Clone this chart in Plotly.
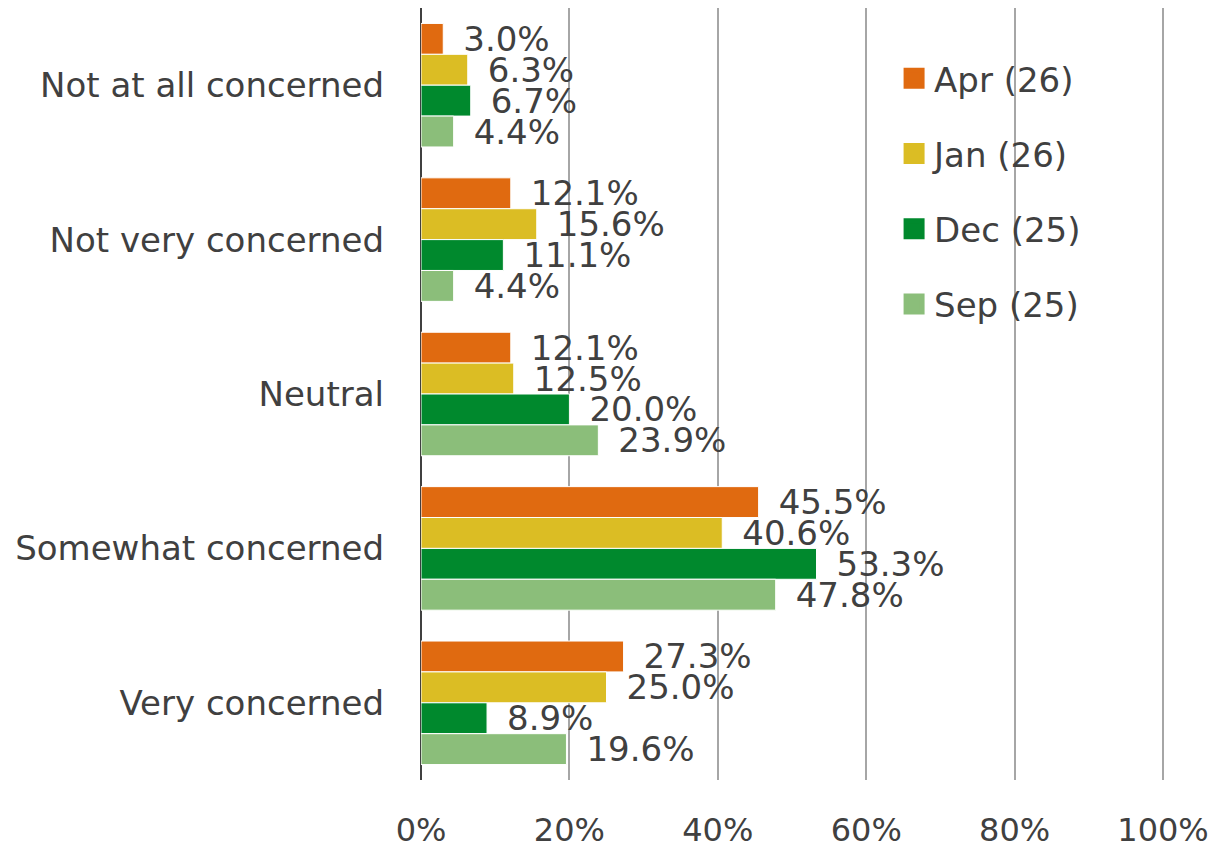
import plotly.graph_objects as go

categories = ["Not at all concerned", "Not very concerned", "Neutral",
              "Somewhat concerned", "Very concerned"]
series_names = ["Apr (26)", "Jan (26)", "Dec (25)", "Sep (25)"]
apr_26 = [3.0, 12.1, 12.1, 45.5, 27.3]
jan_26 = [6.3, 15.6, 12.5, 40.6, 25.0]
dec_25 = [6.7, 11.1, 20.0, 53.3, 8.9]
sep_25 = [4.4, 4.4, 23.9, 47.8, 19.6]
x_ticks = [0, 20, 40, 60, 80, 100]
x_tick_labels = ["0%", "20%", "40%", "60%", "80%", "100%"]

colors = ["#E06A10", "#DBBD24", "#00892D", "#8BBE7A"]
font = "DejaVu Sans"
txt_color = "#404040"

fig = go.Figure()

for name, vals, col in zip(series_names, [apr_26, jan_26, dec_25, sep_25], colors):
    fig.add_trace(go.Bar(
        y=categories, x=vals, orientation="h", name=name, showlegend=False,
        marker=dict(color=col, line=dict(color="white", width=1)),
        text=["\u2002%.1f%%" % v for v in vals],
        textposition="outside", constraintext="none", cliponaxis=False,
        textfont=dict(family=font, size=34, color=txt_color),
        hoverinfo="skip",
    ))

# legend entries with bigger square swatches
for i, (name, col) in enumerate(zip(series_names, colors)):
    fig.add_trace(go.Scatter(
        x=[None], y=[None], mode="markers", name=name, legendgroup=str(i),
        marker=dict(symbol="square", size=22, color=col,
                    line=dict(color=col, width=5)),
    ))

# page body has an 8px margin, so the figure is a bit smaller than the window
fig.update_layout(
    width=1212, height=842,
    margin=dict(l=413, r=54, t=0, b=70),
    paper_bgcolor="white", plot_bgcolor="white",
    barmode="group", bargap=0.2, bargroupgap=0,
    font=dict(family=font, color=txt_color),
    legend=dict(x=0.635, y=0.946, xanchor="left", yanchor="top",
                font=dict(family=font, size=34, color=txt_color),
                tracegroupgap=28, traceorder="grouped",
                bgcolor="rgba(0,0,0,0)", itemwidth=30),
    xaxis=dict(range=[0, 100.4], tickvals=x_ticks, ticktext=x_tick_labels,
               showgrid=True, gridcolor="#A6A6A6", gridwidth=2,
               zeroline=True, zerolinecolor="#404040", zerolinewidth=2,
               showline=False, ticks="", ticklabelstandoff=28,
               automargin=False,
               tickfont=dict(family=font, size=32, color=txt_color)),
    yaxis=dict(autorange="reversed", showgrid=False, showline=False,
               ticks="", ticklabelstandoff=36, automargin=False,
               tickfont=dict(family=font, size=34, color=txt_color)),
)

fig.write_html("out.html")
